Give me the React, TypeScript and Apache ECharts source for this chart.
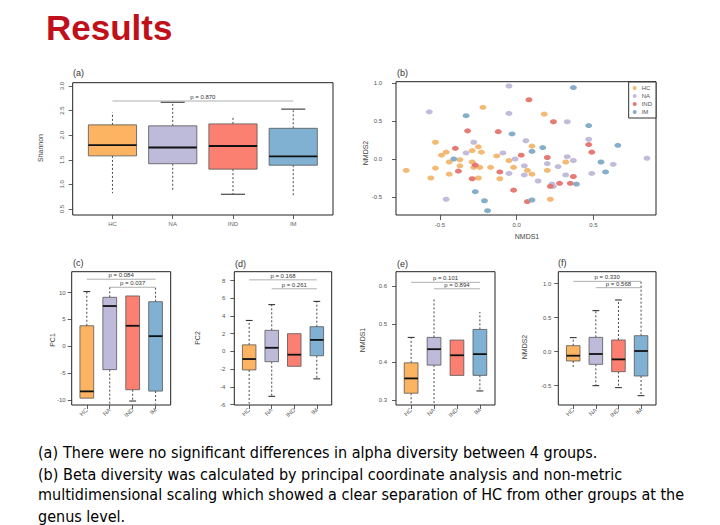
import React, { useEffect, useRef } from 'react';
import * as echarts from 'echarts';

const FONT = '"Liberation Sans", Arial, sans-serif';

const groups = ['HC', 'NA', 'IND', 'IM'];
const boxColors = ['#FDB462', '#BEBADA', '#FB8072', '#80B1D3'];
const dotColors = ['#F2B66E', '#BFB8D8', '#E5736E', '#7EAAC6'];

// each box: [lower whisker, Q1, median, Q3, upper whisker]
const shannonBoxes = [[0.82, 1.58, 1.80, 2.21, 2.46], [0.89, 1.42, 1.75, 2.19, 2.67], [0.80, 1.31, 1.78, 2.23, 2.39], [0.77, 1.39, 1.57, 2.14, 2.53]];
const shannonCapLow = [0, 0, 1, 0];
const shannonCapHigh = [0, 1, 0, 1];
const shannonTicks = [0.5, 1.0, 1.5, 2.0, 2.5, 3.0];
const shannonSig = [[1, 4, 2.695]];
const shannonSigText = ['p = 0.870'];

const pc1Boxes = [[-9.66, -9.66, -8.4, 3.82, 10.19], [-10.7, -4.35, 7.5, 9.13, 11.25], [-10.2, -8.09, 3.82, 9.38, 9.38], [-10.7, -8.35, 1.89, 8.31, 11.25]];
const pc1CapLow = [0, 0, 1, 0];
const pc1CapHigh = [1, 0, 0, 0];
const pc1Ticks = [-10, -5, 0, 5, 10];
const pc1Sig = [[1, 4, 12.5], [2, 4, 11.0]];
const pc1SigText = ['p = 0.084', 'p = 0.037'];

const pc2Boxes = [[-5.9, -2.09, -0.86, 0.74, 3.5], [-5.07, -1.16, 0.41, 2.38, 5.28], [-1.68, -1.68, -0.37, 2.0, 2.0], [-3.1, -0.49, 1.3, 2.79, 5.65]];
const pc2CapLow = [0, 1, 0, 1];
const pc2CapHigh = [1, 1, 0, 1];
const pc2Ticks = [-6, -4, -2, 0, 2, 4, 6, 8];
const pc2Sig = [[1, 4, 8.08], [2, 4, 7.07]];
const pc2SigText = ['p = 0.168', 'p = 0.261'];

const nmds1Boxes = [[0.291, 0.318, 0.357, 0.398, 0.465], [0.291, 0.392, 0.434, 0.465, 0.568], [0.365, 0.365, 0.418, 0.458, 0.458], [0.324, 0.365, 0.421, 0.486, 0.532]];
const nmds1CapLow = [0, 0, 0, 1];
const nmds1CapHigh = [1, 0, 0, 0];
const nmds1Ticks = [0.3, 0.4, 0.5, 0.6];
const nmds1Sig = [[1, 4, 0.610], [2, 4, 0.593]];
const nmds1SigText = ['p = 0.101', 'p = 0.894'];

const nmds2Boxes = [[-0.23, -0.137, -0.059, 0.088, 0.206], [-0.5, -0.186, -0.034, 0.211, 0.603], [-0.529, -0.294, -0.113, 0.172, 0.76], [-0.647, -0.358, 0.01, 0.235, 1.054]];
const nmds2CapLow = [0, 1, 1, 1];
const nmds2CapHigh = [1, 1, 1, 0];
const nmds2Ticks = [-0.5, 0, 0.5, 1.0];
const nmds2Sig = [[1, 4, 1.034], [2, 4, 0.941]];
const nmds2SigText = ['p = 0.330', 'p = 0.568'];

// NMDS ordination points (NMDS1, NMDS2)
const hcPoints = [[-0.22, 0.68], [0.18, 0.59], [-0.53, 0.22], [-0.25, 0.16], [-0.29, 0.11], [-0.23, 0.09], [-0.46, 0.09], [-0.49, 0.05], [-0.37, -0.01], [-0.44, -0.04], [-0.13, 0.04], [-0.05, -0.02], [0.10, 0.17], [-0.72, -0.15], [-0.53, -0.12], [-0.37, -0.09], [-0.44, -0.20], [-0.56, -0.25], [-0.29, -0.04], [-0.28, -0.11], [-0.24, -0.11], [-0.25, -0.25], [-0.17, -0.11], [-0.11, -0.26], [-0.02, -0.11], [0.07, -0.15], [0.10, -0.20], [0.20, -0.15], [0.32, -0.04], [0.22, -0.53]];
const naPoints = [[-0.05, 0.96], [-0.57, 0.62], [-0.05, 0.60], [0.33, 0.49], [0.06, 0.24], [-0.28, 0.22], [-0.33, 0.08], [-0.09, 0.08], [-0.01, 0.00], [0.05, -0.09], [-0.05, -0.19], [0.05, -0.21], [0.14, -0.29], [0.20, -0.06], [0.27, -0.10], [0.33, 0.03], [0.37, -0.02], [0.32, -0.21], [0.24, -0.36], [0.23, -0.33], [0.47, 0.26], [0.49, -0.19], [0.63, -0.07], [0.85, 0.01], [-0.46, -0.53]];
const indPoints = [[0.08, 0.78], [0.24, 0.49], [-0.32, 0.37], [-0.12, 0.36], [-0.40, 0.14], [0.03, 0.05], [0.20, 0.02], [-0.27, -0.08], [-0.38, -0.16], [-0.29, -0.26], [-0.11, -0.17], [0.28, -0.32], [0.22, -0.36], [0.35, -0.32], [0.37, -0.23], [0.47, 0.19], [0.49, 0.09], [-0.02, -0.41], [0.07, -0.56]];
const imPoints = [[0.37, 0.94], [-0.33, 0.57], [-0.03, 0.33], [0.47, 0.44], [0.17, 0.15], [0.10, 0.10], [-0.41, 0.00], [0.55, -0.04], [0.58, -0.17], [0.66, 0.18], [0.39, -0.33], [-0.27, -0.43], [-0.21, -0.55], [-0.19, -0.68], [0.10, -0.54]];
const nmdsXTicks = [-0.5, 0, 0.5];
const nmdsYTicks = [-0.5, 0, 0.5, 1.0];

const captionLines = [
  'There were no significant differences in alpha diversity between 4 groups.',
  'Beta diversity was calculated by principal coordinate analysis and non-metric',
  'multidimensional scaling which showed a clear separation of HC from other groups at the',
  'genus level.',
];

const fmt = (v: number) => (Math.abs(v) < 1e-9 ? '0' : String(v));
const fmt1 = (v: number) => v.toFixed(1);

function line(x1: number, y1: number, x2: number, y2: number, style: any) {
  return { type: 'line', shape: { x1, y1, x2, y2 }, style };
}

function boxSeries(idx: number, boxes: number[][], capLo: number[], capHi: number[], boxW: number, capW: number) {
  return {
    type: 'custom',
    xAxisIndex: idx,
    yAxisIndex: idx,
    silent: true,
    data: boxes.map((b, i) => [i + 1, ...b, capLo[i], capHi[i]]),
    encode: { x: 0, y: [1, 2, 3, 4, 5] },
    renderItem: (params: any, api: any) => {
      const x = api.value(0);
      const lo = api.value(1), q1 = api.value(2), med = api.value(3), q3 = api.value(4), hi = api.value(5);
      const half = api.size([boxW, 0])[0] / 2;
      const capHalf = api.size([capW, 0])[0] / 2;
      const cx = api.coord([x, lo])[0];
      const yLo = api.coord([x, lo])[1];
      const yQ1 = api.coord([x, q1])[1];
      const yMed = api.coord([x, med])[1];
      const yQ3 = api.coord([x, q3])[1];
      const yHi = api.coord([x, hi])[1];
      const dash = { stroke: '#333', lineWidth: 0.9, lineDash: [2, 2] };
      const solid = { stroke: '#222', lineWidth: 1 };
      const children: any[] = [];
      if (hi > q3) children.push(line(cx, yQ3, cx, yHi, dash));
      if (lo < q1) children.push(line(cx, yQ1, cx, yLo, dash));
      if (api.value(7)) children.push(line(cx - capHalf, yHi, cx + capHalf, yHi, solid));
      if (api.value(6)) children.push(line(cx - capHalf, yLo, cx + capHalf, yLo, solid));
      children.push({
        type: 'rect',
        shape: { x: cx - half, y: yQ3, width: half * 2, height: yQ1 - yQ3 },
        style: { fill: boxColors[params.dataIndex], stroke: '#555', lineWidth: 0.8 },
      });
      children.push(line(cx - half, yMed, cx + half, yMed, { stroke: '#111', lineWidth: 1.8 }));
      return { type: 'group', children };
    },
  };
}

function sigSeries(idx: number, lines: number[][], labels: string[]) {
  return {
    type: 'custom',
    xAxisIndex: idx,
    yAxisIndex: idx,
    silent: true,
    data: lines,
    encode: { x: [0, 1], y: 2 },
    renderItem: (params: any, api: any) => {
      const p1 = api.coord([api.value(0), api.value(2)]);
      const p2 = api.coord([api.value(1), api.value(2)]);
      return {
        type: 'group',
        children: [
          line(p1[0], p1[1], p2[0], p2[1], { stroke: '#9a9a9a', lineWidth: 0.8 }),
          {
            type: 'text',
            x: (p1[0] + p2[0]) / 2,
            y: p1[1] - 1,
            style: {
              text: labels[params.dataIndex],
              align: 'center',
              verticalAlign: 'bottom',
              fontSize: 6,
              fontFamily: FONT,
              fill: '#333',
            },
          },
        ],
      };
    },
  };
}

function boxXAxis(idx: number, rotate: number) {
  return {
    type: 'value',
    gridIndex: idx,
    min: 0.34,
    max: 4.66,
    axisLine: { show: false, onZero: false },
    splitLine: { show: false },
    axisTick: { show: true, customValues: [1, 2, 3, 4], length: 4, lineStyle: { color: '#333', width: 0.8 } },
    axisLabel: {
      customValues: [1, 2, 3, 4],
      formatter: (v: number) => groups[Math.round(v) - 1] || '',
      fontSize: 6,
      fontFamily: FONT,
      color: '#666',
      rotate,
      margin: rotate ? 4 : 6,
    },
  };
}

function yAxisCfg(idx: number, min: number, max: number, ticks: number[], formatter: any, rotate: number, margin: number) {
  return {
    type: 'value',
    gridIndex: idx,
    min,
    max,
    axisLine: { show: false, onZero: false },
    splitLine: { show: false },
    axisTick: { show: true, customValues: ticks, length: 4, lineStyle: { color: '#333', width: 0.8 } },
    axisLabel: { customValues: ticks, formatter, fontSize: 6, fontFamily: FONT, color: '#555', rotate, margin },
  };
}

function txt(x: number, y: number, text: string, font: string, fill: string, align = 'left', rotation = 0) {
  return {
    type: 'text',
    x,
    y,
    rotation,
    silent: true,
    style: { text, font, fill, align, textAlign: align, verticalAlign: 'middle', textVerticalAlign: 'middle' },
  };
}

const gridStyle = { show: true, borderColor: '#222', borderWidth: 1, backgroundColor: 'transparent' };

export default function App() {
  const ref = useRef<HTMLDivElement>(null);
  useEffect(() => {
    if (!ref.current) return;
    const chart = echarts.init(ref.current, null, { renderer: 'svg', width: 720, height: 525 });
    const small = `7px ${FONT}`;
    const panel = `9px ${FONT}`;
    const cap = `16px "Liberation Sans Narrow", "DejaVu Sans Condensed", "Liberation Sans", sans-serif`;
    const option: any = {
      animation: false,
      backgroundColor: '#ffffff',
      grid: [
        { left: 72.7, top: 82.7, width: 260.3, height: 132.3, ...gridStyle },
        { left: 396, top: 81.7, width: 260, height: 133.3, ...gridStyle },
        { left: 71.7, top: 271.7, width: 99, height: 133.3, ...gridStyle },
        { left: 234.3, top: 271.7, width: 97.4, height: 133.3, ...gridStyle },
        { left: 396, top: 271.7, width: 99, height: 133.3, ...gridStyle },
        { left: 558.3, top: 271.7, width: 97.7, height: 133.3, ...gridStyle },
      ],
      xAxis: [
        boxXAxis(0, 0),
        {
          type: 'value', gridIndex: 1, min: -0.787, max: 0.909,
          axisLine: { show: false, onZero: false }, splitLine: { show: false },
          axisTick: { show: true, customValues: nmdsXTicks, length: 5, lineStyle: { color: '#333', width: 0.8 } },
          axisLabel: { customValues: nmdsXTicks, formatter: fmt1, fontSize: 6, fontFamily: FONT, color: '#555', margin: 7 },
        },
        boxXAxis(2, 45),
        boxXAxis(3, 45),
        boxXAxis(4, 45),
        boxXAxis(5, 45),
      ],
      yAxis: [
        yAxisCfg(0, 0.378, 3.067, shannonTicks, fmt1, 90, 8),
        yAxisCfg(1, -0.737, 1.017, nmdsYTicks, fmt1, 0, 14),
        yAxisCfg(2, -10.94, 13.9, pc1Ticks, fmt, 0, 6),
        yAxisCfg(3, -6.05, 9.0, pc2Ticks, fmt, 0, 9),
        yAxisCfg(4, 0.287, 0.638, nmds1Ticks, fmt1, 0, 9),
        yAxisCfg(5, -0.784, 1.176, nmds2Ticks, fmt1, 0, 7),
      ],
      legend: {
        data: groups,
        right: 64,
        top: 82,
        orient: 'vertical',
        icon: 'circle',
        itemWidth: 4,
        itemHeight: 4,
        itemGap: 2,
        padding: [3, 4, 3, 4],
        borderColor: '#333',
        borderWidth: 1,
        backgroundColor: '#fff',
        textStyle: { fontSize: 6, fontFamily: FONT, color: '#555' },
      },
      series: [
        boxSeries(0, shannonBoxes, shannonCapLow, shannonCapHigh, 0.8, 0.4),
        sigSeries(0, shannonSig, shannonSigText),
        ...[hcPoints, naPoints, indPoints, imPoints].map((pts, i) => ({
          type: 'scatter',
          name: groups[i],
          xAxisIndex: 1,
          yAxisIndex: 1,
          data: pts,
          symbol: 'circle',
          symbolSize: [7, 5],
          itemStyle: { color: dotColors[i], opacity: 0.95 },
          silent: true,
        })),
        boxSeries(2, pc1Boxes, pc1CapLow, pc1CapHigh, 0.6, 0.3),
        sigSeries(2, pc1Sig, pc1SigText),
        boxSeries(3, pc2Boxes, pc2CapLow, pc2CapHigh, 0.6, 0.3),
        sigSeries(3, pc2Sig, pc2SigText),
        boxSeries(4, nmds1Boxes, nmds1CapLow, nmds1CapHigh, 0.6, 0.3),
        sigSeries(4, nmds1Sig, nmds1SigText),
        boxSeries(5, nmds2Boxes, nmds2CapLow, nmds2CapHigh, 0.6, 0.3),
        sigSeries(5, nmds2Sig, nmds2SigText),
      ],
      graphic: [
        txt(46, 27, 'Results', `bold 35px ${FONT}`, '#C0101A'),
        txt(73, 73, '(a)', panel, '#333'),
        txt(397, 73, '(b)', panel, '#333'),
        txt(73, 263, '(c)', panel, '#333'),
        txt(235, 264, '(d)', panel, '#333'),
        txt(397, 264, '(e)', panel, '#333'),
        txt(558, 263, '(f)', panel, '#333'),
        txt(40, 148, 'Shannon', small, '#444', 'center', Math.PI / 2),
        txt(365, 153, 'NMDS2', small, '#444', 'center', Math.PI / 2),
        txt(527, 236, 'NMDS1', small, '#444', 'center'),
        txt(52, 340, 'PC1', small, '#444', 'center', Math.PI / 2),
        txt(197, 338, 'PC2', small, '#444', 'center', Math.PI / 2),
        txt(362, 340, 'NMDS1', small, '#444', 'center', Math.PI / 2),
        txt(524, 347, 'NMDS2', small, '#444', 'center', Math.PI / 2),
        txt(38, 452, '(a)', cap, '#000'),
        txt(63, 452, captionLines[0], cap, '#000'),
        txt(38, 474, '(b)', cap, '#000'),
        txt(63, 474, captionLines[1], cap, '#000'),
        txt(38, 494, captionLines[2], cap, '#000'),
        txt(38, 516, captionLines[3], cap, '#000'),
      ],
    };
    chart.setOption(option);
    return () => chart.dispose();
  }, []);
  return <div ref={ref} style={{ position: 'absolute', left: 0, top: 0, width: 720, height: 525, background: '#fff' }} />;
}
